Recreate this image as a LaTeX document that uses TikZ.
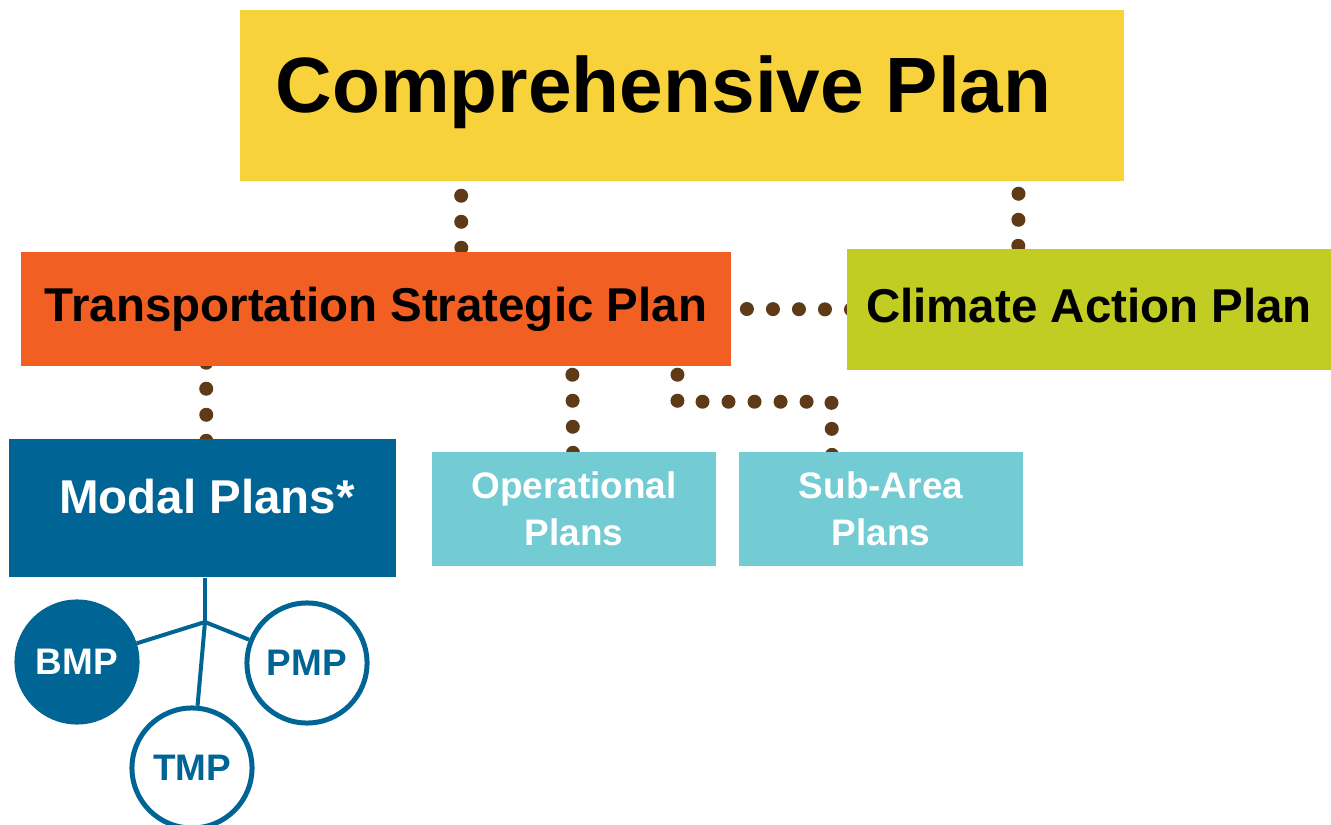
\documentclass[tikz,border=0pt]{standalone}
\usepackage{fontspec}
\setmainfont{Liberation Sans}
\usetikzlibrary{backgrounds}

\definecolor{planyellow}{HTML}{F8D23A}
\definecolor{planorange}{HTML}{F15F22}
\definecolor{planlime}{HTML}{C2CD23}
\definecolor{planblue}{HTML}{006594}
\definecolor{plancyan}{HTML}{73CBD3}
\definecolor{dotbrown}{HTML}{5E3A16}

\tikzset{
  planbox/.style={rectangle,inner sep=0pt,font=\bfseries\fontsize{13.5}{16}\selectfont,
                  text height=0.72em,text depth=0pt},
  subbox/.style={rectangle,inner sep=0pt,fill=plancyan,text=white,align=center,
                 minimum width=2.84cm,minimum height=1.14cm,
                 font=\bfseries\fontsize{10.5}{13.4}\selectfont},
  modalcircle/.style={circle,inner sep=0pt,minimum size=1.2cm,line width=0.05cm,
                      font=\bfseries\fontsize{10.5}{12}\selectfont},
  dotline/.style={dotbrown,line width=0.14cm,line cap=round,
                  dash pattern=on 0pt off 0.26cm},
  treeline/.style={planblue,line width=0.04cm}
}

\begin{document}
\begin{tikzpicture}[x=0.01cm,y=-0.01cm]
\useasboundingbox (0,0) rectangle (1331,825);

% plan boxes
\node[rectangle,fill=planyellow,minimum width=8.84cm,minimum height=1.71cm] (comp) at (682,95.5) {};
\node[anchor=base west,inner sep=0pt,font=\bfseries\fontsize{22.3}{26}\selectfont] (comptext) at (275,113) {Comprehensive Plan};
\node[planbox,fill=planorange,minimum width=7.10cm,minimum height=1.14cm] (tsp) at (376,309) {Transportation Strategic Plan};
\node[planbox,fill=planlime,minimum width=4.84cm,minimum height=1.21cm] (cap) at (1089,309.5) {Climate Action Plan};
\node[planbox,fill=planblue,text=white,minimum width=3.87cm,minimum height=1.38cm] (modal) at (202.5,508) {};
\node[planbox,text=white] (modaltext) at (207,501) {Modal Plans*};
\node[subbox] (oper) at (574,509) {Operational\\Plans};
\node[subbox] (subarea) at (881,509) {Sub-Area\\Plans};

% modal plans
\node[modalcircle,fill=planblue,draw=planblue,text=white] (bmp) at (77,662) {BMP};
\node[modalcircle,fill=white,draw=planblue,text=planblue] (pmp) at (307,663) {PMP};
\node[modalcircle,fill=white,draw=planblue,text=planblue] (tmp) at (192,768) {TMP};
\coordinate (fork) at (205,622);
\draw[treeline] (modal.south -| fork) -- (fork);
\draw[treeline] (fork) -- (bmp);
\draw[treeline] (fork) -- (pmp);
\draw[treeline] (fork) -- (tmp);

% dotted links, kept behind the boxes
\begin{pgfonlayer}{background}
\draw[dotline] ([xshift=2.22cm,yshift=-0.14cm]comp.south west) -- ([xshift=4.41cm,yshift=-0.1cm]tsp.north west);
\draw[dotline] ([xshift=7.79cm,yshift=-0.12cm]comp.south west) -- ([xshift=1.72cm,yshift=-0.1cm]cap.north west);
\draw[dotline] ([xshift=0.15cm]tsp.east) -- ([xshift=0.1cm]cap.west);
\draw[dotline] ([xshift=1.86cm,yshift=0.04cm]tsp.south west) -- ([xshift=1.98cm,yshift=-0.04cm]modal.north west);
\draw[dotline] ([xshift=5.52cm,yshift=-0.08cm]tsp.south west) -- ([yshift=-0.03cm]oper.north -| 573,0);
\draw[dotline] ([xshift=6.57cm,yshift=-0.08cm]tsp.south west) -- ++(0,27) -- ++(154,0) -- ([yshift=-0.05cm]subarea.north -| 832,0);
\end{pgfonlayer}
\end{tikzpicture}
\end{document}
